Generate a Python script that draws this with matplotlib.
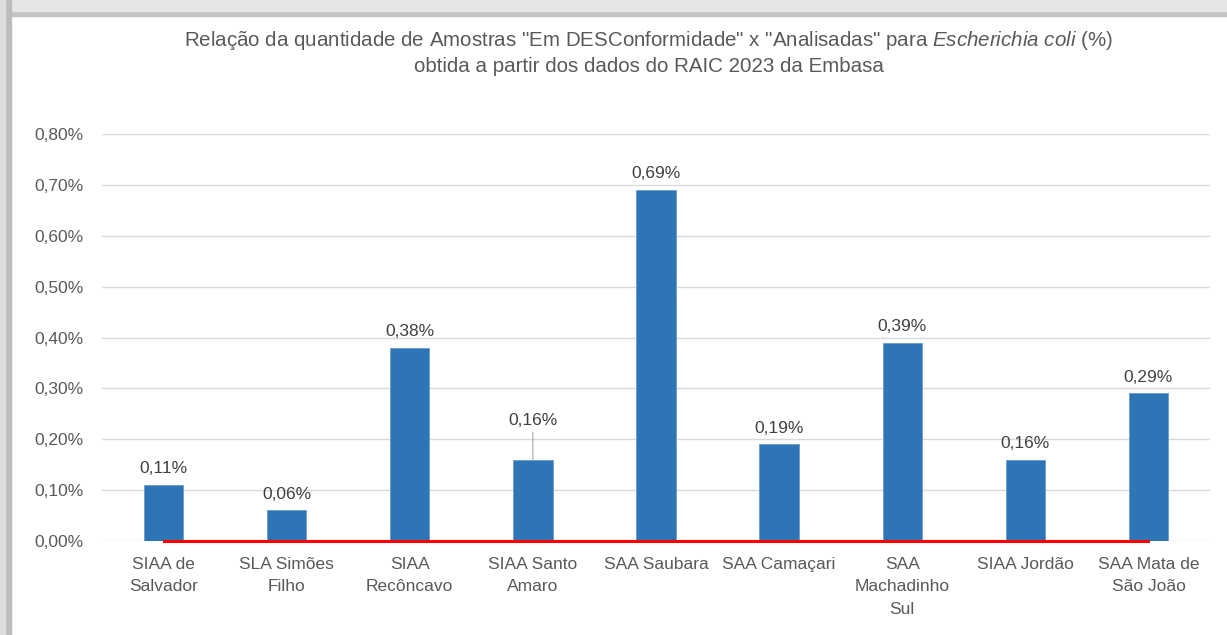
import matplotlib.pyplot as plt
from matplotlib.patches import Rectangle
from matplotlib.ticker import FuncFormatter

plt.rcParams['font.family'] = ['Liberation Sans', 'DejaVu Sans']
plt.rcParams['mathtext.fontset'] = 'custom'
plt.rcParams['mathtext.rm'] = 'Liberation Sans'
plt.rcParams['mathtext.it'] = 'Liberation Sans:italic'

categorias = ["SIAA de\nSalvador", "SLA Simões\nFilho", "SIAA\nRecôncavo", "SIAA Santo\nAmaro",
              "SAA Saubara", "SAA Camaçari", "SAA\nMachadinho\nSul", "SIAA Jordão", "SAA Mata de\nSão João"]
percentuais = [0.11, 0.06, 0.38, 0.16, 0.69, 0.19, 0.39, 0.16, 0.29]
limite = [0, 0, 0, 0, 0, 0, 0, 0, 0]
y_ticks = [0.0, 0.1, 0.2, 0.3, 0.4, 0.5, 0.6, 0.7, 0.8]

AZUL = "#2E75B6"
CINZA_TXT = "#595959"


def fmt_pct(v, pos=None):
    return f"{v:.2f}%".replace(".", ",")


fig = plt.figure(figsize=(12.27, 6.35), dpi=100)

# moldura cinza (sombra) do print
fig.patches.append(Rectangle((0, 1 - 16 / 635), 1, 16 / 635, transform=fig.transFigure,
                             color="#c4c4c4", zorder=0))
fig.patches.append(Rectangle((0, 1 - 11 / 635), 1, 11 / 635, transform=fig.transFigure,
                             color="#e6e6e6", zorder=0))
fig.patches.append(Rectangle((0, 0), 11 / 1227, 1, transform=fig.transFigure,
                             color="#bdbdbd", zorder=0))
fig.patches.append(Rectangle((0, 0), 5 / 1227, 1, transform=fig.transFigure,
                             color="#dedede", zorder=0))

ax = fig.add_axes([102 / 1227, 1 - 541 / 635, 1108 / 1227, (541 - 134) / 635])

x = list(range(len(categorias)))
ax.bar(x, percentuais, width=0.32, color=AZUL, edgecolor="#6a9ccf", linewidth=0.6, zorder=2)
ax.plot(x, limite, color="#ff0000", linewidth=2.2, zorder=3, clip_on=False)

for i, v in enumerate(percentuais):
    if i == 3:
        # rótulo deslocado com linha de chamada
        ax.annotate(fmt_pct(v), xy=(i, v), xytext=(i, 0.222), ha="center", va="bottom",
                    fontsize=12.5, color="#404040",
                    arrowprops=dict(arrowstyle="-", color="#a6a6a6", lw=0.8, shrinkA=1, shrinkB=0))
    else:
        ax.text(i, v + 0.017, fmt_pct(v), ha="center", va="bottom", fontsize=12.5, color="#404040")

ax.set_xlim(-0.5, len(categorias) - 0.5)
ax.set_ylim(0, 0.8)
ax.set_yticks(y_ticks)
ax.yaxis.set_major_formatter(FuncFormatter(fmt_pct))
ax.set_xticks(x)
ax.set_xticklabels(categorias, fontsize=12.5, color=CINZA_TXT, linespacing=1.62, va="top")
ax.tick_params(axis="y", labelsize=12.5, labelcolor=CINZA_TXT, length=0, pad=13)
ax.tick_params(axis="x", length=0, pad=11.5)
ax.grid(axis="y", color="#d9d9d9", linewidth=1, zorder=0)
for s in ax.spines.values():
    s.set_visible(False)

fig.text(0.5285, 1 - 40 / 635, 'Relação da quantidade de Amostras "Em DESConformidade" x "Analisadas" para '
         r'$\it{Escherichia\ coli}$ (%)', ha="center", va="center", fontsize=14.8, color=CINZA_TXT)
fig.text(0.5285, 1 - 66 / 635, "obtida a partir dos dados do RAIC 2023 da Embasa",
         ha="center", va="center", fontsize=14.8, color=CINZA_TXT)

fig.savefig("out.png", dpi=100)
